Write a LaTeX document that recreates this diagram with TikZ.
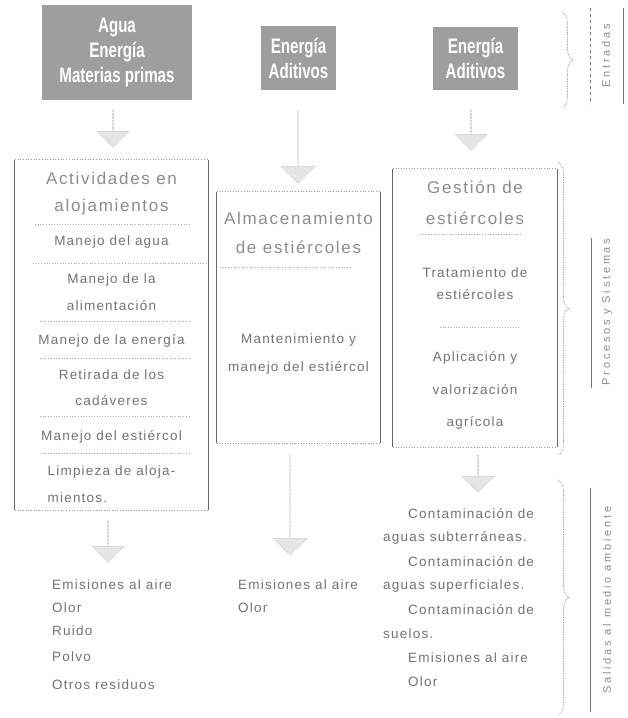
\documentclass[tikz,border=0pt]{standalone}
\usepackage{fontspec}
\setmainfont{Liberation Sans}
\newfontfamily\condf[FakeStretch=0.72]{Liberation Sans}
\usetikzlibrary{shapes.arrows,decorations.pathreplacing}
\begin{document}
\begin{tikzpicture}[x=1pt,y=-1pt,
  inbox/.style={fill=black!38, text=white, font=\condf\bfseries\fontsize{21}{25}\selectfont, align=center, inner sep=0pt},
  item/.style={text=black!55, font=\fontsize{13.5}{16}\selectfont\addfontfeatures{LetterSpace=9}, inner sep=0pt},
  ttl/.style={text=black!45, font=\fontsize{17}{20}\selectfont\addfontfeatures{LetterSpace=10}, inner sep=0pt},
  area/.style={inner sep=0pt},
  side/.style={draw=black!60, line width=0.7pt},
  rim/.style={draw=black!40, dotted, line width=0.7pt},
  sepline/.style={draw=black!35, dotted, line width=0.7pt},
  fatarrow/.style={single arrow, shape border rotate=270, draw=black!45, densely dotted, fill=black!10, inner sep=0pt, single arrow head extend=7pt},
  brc/.style={decorate, decoration={brace, amplitude=11pt}, draw=black!45, densely dotted, line width=0.7pt},
  vlabel/.style={rotate=90, text=black!45, font=\fontsize{11}{13}\selectfont\addfontfeatures{LetterSpace=25}, inner sep=0pt},
  vline/.style={draw=black!55, line width=0.6pt}
]
\useasboundingbox (0,0) rectangle (628,718);

% input boxes
\node[inbox, minimum width=150pt, minimum height=95pt] (in1) at (117,52.5) {Agua\\Energía\\Materias primas};
\node[inbox, minimum width=75pt, minimum height=64pt] (in2) at (298.5,58) {Energía\\Aditivos};
\node[inbox, minimum width=85pt, minimum height=63pt] (in3) at (475.5,58.5) {Energía\\Aditivos};

% process boxes (areas)
\node[area, minimum width=193pt, minimum height=350pt] (lb) at (111.5,335) {};
\node[area, minimum width=163pt, minimum height=251pt] (mb) at (298.5,317.5) {};
\node[area, minimum width=164pt, minimum height=278pt] (rb) at (475,308) {};
\foreach \b in {lb,mb,rb}{
  \draw[side] (\b.north west) -- (\b.south west);
  \draw[side] (\b.north east) -- (\b.south east);
  \draw[rim] (\b.north west) -- (\b.north east);
  \draw[rim] (\b.south west) -- (\b.south east);
}

% arrows
\node[fatarrow, minimum height=37pt, minimum width=32pt] (a1) at (113,128.5) {};
\node[fatarrow, minimum height=73pt, minimum width=34pt] (a2) at (298,146.5) {};
\node[fatarrow, minimum height=40pt, minimum width=32pt] (a3) at (471,130) {};
\node[fatarrow, minimum height=42pt, minimum width=32pt] (a4) at (108,541) {};
\node[fatarrow, minimum height=100pt, minimum width=34pt] (a5) at (290,505) {};
\node[fatarrow, minimum height=37pt, minimum width=32pt] (a6) at (478,473.5) {};

% left box content
\node[ttl] (l1) at (111.5,178) {Actividades en};
\node[ttl] (l2) at (111.5,207) {alojamientos};
\draw[sepline] (35,224) -- (190,224);
\node[item] (l3) at (111.5,242) {Manejo del agua};
\draw[sepline] (33,263) -- (208,263);
\node[item] (l4) at (111.5,280) {Manejo de la};
\node[item] (l5) at (111.5,306) {alimentación};
\draw[sepline] (40,321) -- (190,321);
\node[item] (l6) at (111.5,341) {Manejo de la energía};
\draw[sepline] (40,358) -- (190,358);
\node[item] (l7) at (111.5,375) {Retirada de los};
\node[item] (l8) at (111.5,401) {cadáveres};
\draw[sepline] (40,416) -- (190,416);
\node[item] (l9) at (111.5,437) {Manejo del estiércol};
\draw[sepline] (40,453) -- (190,453);
\node[item] (l10) at (111.5,472) {Limpieza de aloja-};
\node[item, anchor=west] (l11) at (l10.west |- 0,498) {mientos.};

% middle box content
\node[ttl] (m1) at (298.5,218) {Almacenamiento};
\node[ttl] (m2) at (298.5,247) {de estiércoles};
\draw[sepline] (220,267) -- (350,267);
\node[item] (m3) at (298.5,340) {Mantenimiento y};
\node[item] (m4) at (298.5,368) {manejo del estiércol};

% right box content
\node[ttl] (r1) at (475,187) {Gestión de};
\node[ttl] (r2) at (475,218) {estiércoles};
\draw[sepline] (420,234) -- (520,234);
\node[item] (r3) at (475,273) {Tratamiento de};
\node[item] (r4) at (475,295) {estiércoles};
\draw[sepline] (440,327) -- (520,327);
\node[item] (r5) at (475,358) {Aplicación y};
\node[item] (r6) at (475,390) {valorización};
\node[item] (r7) at (475,423) {agrícola};

% outputs
\node[item, anchor=west] (o1) at (52,585) {Emisiones al aire};
\node[item, anchor=west] (o2) at (52,608) {Olor};
\node[item, anchor=west] (o3) at (52,631) {Ruido};
\node[item, anchor=west] (o4) at (52,657) {Polvo};
\node[item, anchor=west] (o5) at (52,685) {Otros residuos};

\node[item, anchor=west] (p1) at (238,585) {Emisiones al aire};
\node[item, anchor=west] (p2) at (238,608) {Olor};

\node[item, anchor=west] (q1) at (408,514) {Contaminación de};
\node[item, anchor=west] (q2) at (383,538) {aguas subterráneas.};
\node[item, anchor=west] (q3) at (408,562) {Contaminación de};
\node[item, anchor=west] (q4) at (383,586) {aguas superficiales.};
\node[item, anchor=west] (q5) at (408,610) {Contaminación de};
\node[item, anchor=west] (q6) at (383,634) {suelos.};
\node[item, anchor=west] (q7) at (408,658) {Emisiones al aire};
\node[item, anchor=west] (q8) at (408,682) {Olor};

% braces
\coordinate (b1t) at (562,12);  \coordinate (b1b) at (562,108);
\coordinate (b2t) at (558,162); \coordinate (b2b) at (558,455);
\coordinate (b3t) at (558,480); \coordinate (b3b) at (558,715);
\draw[brc] (b1t) -- (b1b);
\draw[brc] (b2t) -- (b2b);
\draw[brc] (b3t) -- (b3b);

% side labels
\node[vlabel] (v1) at (606,56) {Entradas};
\draw[vline, dashed] (590,8) -- (590,104);
\draw[vline] (623,8) -- (623,104);
\node[vlabel] (v2) at (607,312) {Procesos y Sistemas};
\draw[vline] (591,238) -- (591,388);
\node[vlabel] (v3) at (607,600) {Salidas al medio ambiente};
\draw[vline] (590,488) -- (590,712);
\end{tikzpicture}
\end{document}
